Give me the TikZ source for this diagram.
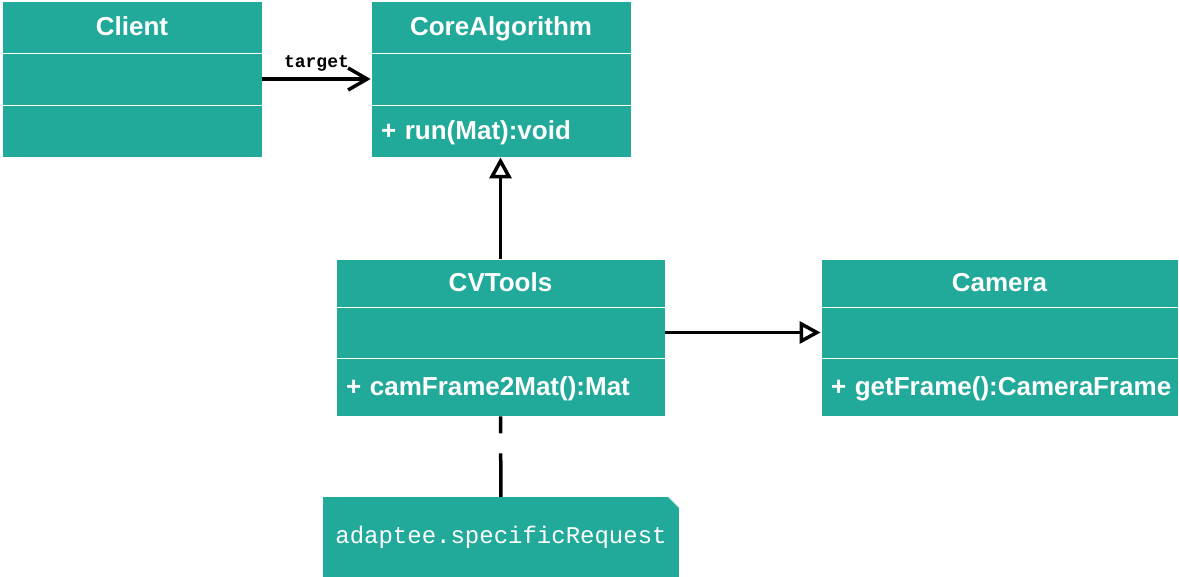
\documentclass[tikz,border=0pt]{standalone}
\usepackage{fontspec}
\setmainfont{Liberation Sans}
\newfontfamily\notefont{Liberation Mono}
\usetikzlibrary{arrows.meta,positioning}
\definecolor{umlteal}{RGB}{33,169,154}
\begin{document}
\begin{tikzpicture}
  [x=1pt, y=-1pt,
  cls/.style={draw=white, line width=0.8pt, fill=umlteal, text=white, inner sep=0pt,
    font=\bfseries\fontsize{26}{30}\selectfont, text height=20pt, text depth=2pt},
  head/.style={cls, align=center},
  memb/.style={cls, align=left, inner xsep=10pt},
  note/.style={fill=umlteal, text=white, inner sep=0pt,
    font=\notefont\fontsize{24}{28}\selectfont},
  assoc/.style={line width=3.5pt, -{Straight Barb[length=19pt,width=22pt,line width=3.5pt]}},
  inherit/.style={line width=3.5pt, -{Triangle[open,length=21pt,width=22pt,line width=3.5pt]}},
  >=Stealth]
  \useasboundingbox (0,0) rectangle (1179,577);
  \node (client)   at (132,27)    [head, minimum width=260pt, minimum height=52pt] {Client};
  \node (client-a) at (132,79)    [cls, minimum width=260pt, minimum height=52pt] {};
  \node (client-m) at (132,131)   [cls, minimum width=260pt, minimum height=52pt] {};
  \node (core)     at (501,27)    [head, minimum width=260pt, minimum height=52pt] {CoreAlgorithm};
  \node (core-a)   at (501,79)    [cls, minimum width=260pt, minimum height=52pt] {};
  \node (core-m)   at (501,131)   [memb, text width=240pt, minimum height=52pt] {\mbox{+ run(Mat):void}};
  \node (cvtools)   at (500.5,283)   [head, minimum width=329pt, minimum height=48pt] {CVTools};
  \node (cvtools-a) at (500.5,332.5) [cls, minimum width=329pt, minimum height=51pt] {};
  \node (cvtools-m) at (500.5,387)   [memb, text width=309pt, minimum height=58pt] {\mbox{+ camFrame2Mat():Mat}};
  \node (camera)   at (999.5,283)   [head, minimum width=357pt, minimum height=48pt] {Camera};
  \node (camera-a) at (999.5,332.5) [cls, minimum width=357pt, minimum height=51pt] {};
  \node (camera-m) at (999.5,387)   [memb, text width=337pt, minimum height=58pt] {\mbox{+ getFrame():CameraFrame}};
  \node (note) at (501,537) [note, minimum width=356pt, minimum height=80pt] {adaptee.specificRequest};
  \fill[white] (note.north east) ++(-11,0) -- (note.north east) -- ++(0,11) -- cycle;
  \draw[umlteal!40, line width=0.6pt] (note.north east) ++(-11,0) -- ++(11,11);
  \draw[assoc] (client-a) -- (core-a)
    node (lbl-target) [midway, above=3pt, font=\notefont\bfseries\fontsize{18}{20}\selectfont] {target};
  \draw[inherit] (cvtools) -- (cvtools |- core-m.south);
  \draw[inherit] (cvtools-a) -- (camera-a);
  \draw[line width=3.5pt, dash pattern=on 17pt off 20pt on 44pt off 20pt] (cvtools-m) -- (note);
\end{tikzpicture}
\end{document}
